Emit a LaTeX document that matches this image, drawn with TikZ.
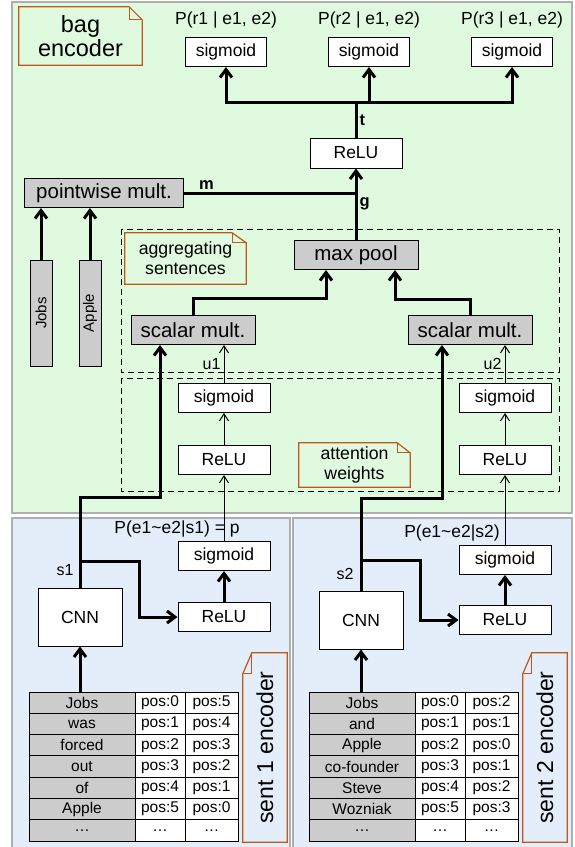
\documentclass[tikz,border=0pt]{standalone}
\usepackage{fontspec}
\setmainfont{Liberation Sans}
\usetikzlibrary{arrows.meta}
\definecolor{bagfill}{RGB}{223,250,223}
\definecolor{sentfill}{RGB}{228,238,250}
\definecolor{notedge}{RGB}{192,88,28}
\definecolor{panelgray}{RGB}{175,175,175}
\definecolor{boxgray}{RGB}{204,204,204}
\newcommand{\notefoldR}[3]{%
  \draw[noteline] (#1.south west) -- (#1.north west) -- ([xshift=-#2]#1.north east)
    -- ([yshift=-#3]#1.north east) -- (#1.south east) -- cycle;
  \draw[noteline] ([xshift=-#2]#1.north east) |- ([yshift=-#3]#1.north east);}
\newcommand{\notefoldL}[3]{%
  \draw[noteline] (#1.north west) -- ([yshift=-#3]#1.north east) -- ([xshift=#2]#1.north east)
    -- (#1.south east) -- (#1.south west) -- cycle;
  \draw[noteline] ([xshift=#2]#1.north east) |- ([yshift=-#3]#1.north east);}
\begin{document}
\begin{tikzpicture}[%
    x=1pt, y=-1pt,
    panel/.style={draw=panelgray, line width=1.5pt},
    wbox/.style={
      rectangle,
      draw,
      line width=1pt,
      fill=white,
      inner sep=0pt,
      minimum height=29pt,
      font=\fontsize{17.5}{19}\selectfont
    },
    gbox/.style={
      wbox,
      fill=boxgray,
      minimum width=124pt,
      font=\fontsize{20.5}{22}\selectfont
    },
    entbar/.style={
      rectangle,
      draw,
      line width=1pt,
      fill=boxgray,
      rotate=90,
      inner sep=0pt,
      minimum width=106pt,
      minimum height=22pt,
      font=\fontsize{15}{16}\selectfont
    },
    lbl/.style={inner sep=0pt, font=\fontsize{17.5}{19}\selectfont},
    slbl/.style={inner sep=0pt, font=\fontsize{16}{18}\selectfont},
    blbl/.style={inner sep=2pt, font=\fontsize{16.5}{18}\selectfont\bfseries},
    note/.style={align=center, inner sep=0pt},
    noteline/.style={draw=notedge, line width=1.2pt},
    dashbox/.style={line width=1pt, dash pattern=on 6pt off 4pt},
    thickline/.style={line width=3pt},
    thickarrow/.style={thickline, -{Straight Barb[length=8pt,width=12pt]}},
    thinarrow/.style={line width=1pt, -{Straight Barb[length=7pt,width=9pt]}},
    cell/.style={
      draw,
      line width=1pt,
      inner sep=0pt,
      minimum height=21.3pt,
      font=\fontsize{15.5}{16}\selectfont
    },
    wordcell/.style={cell, fill=boxgray, minimum width=106pt},
    poscell/.style={cell, fill=white},
  ]
    \useasboundingbox (0,0) rectangle (575,847);
    \clip (0,0) rectangle (575,847);
    \draw[panel, fill=bagfill] (12,2) rectangle (572,513);
    \draw[panel, fill=sentfill] (12,518) rectangle (290,860);
    \draw[panel, fill=sentfill] (293,518) rectangle (572,860);
    \draw[dashbox] (121,229) rectangle (559,372);
    \draw[dashbox] (121,378) rectangle (559,491);
    % bag encoder
    \node[note, minimum width=123pt, minimum height=58pt,
      font=\fontsize{23.5}{24}\selectfont] (bagnote) at (80.5,36) {bag\\encoder};
    \notefoldR{bagnote}{13pt}{13pt}
    \node[note, minimum width=121pt, minimum height=51pt,
      font=\fontsize{17.7}{20}\selectfont] (aggnote) at (185.5,258.5) {aggregating\\sentences};
    \notefoldR{aggnote}{14pt}{10pt}
    \node[note, minimum width=111pt, minimum height=44pt,
      font=\fontsize{17.7}{20}\selectfont] (attnote) at (354.5,465) {attention\\weights};
    \notefoldR{attnote}{13pt}{10pt}
    \node[lbl] (pr1) at (226,20) {P(r1 | e1, e2)};
    \node[lbl] (pr2) at (369,20) {P(r2 | e1, e2)};
    \node[lbl] (pr3) at (512,20) {P(r3 | e1, e2)};
    \node[wbox, minimum width=81pt] (sig1) at (226,52) {sigmoid};
    \node[wbox, minimum width=81pt] (sig2) at (369,52) {sigmoid};
    \node[wbox, minimum width=81pt] (sig3) at (512,52) {sigmoid};
    \node[wbox, minimum width=92pt, minimum height=30pt] (relut) at (356,153) {ReLU};
    \node[gbox, minimum width=159pt] (pw) at (104,193) {pointwise mult.};
    \node[entbar] (jobs) at (41,313) {Jobs};
    \node[entbar] (apple) at (90,313) {Apple};
    \node[gbox] (mp) at (356,255) {max pool};
    \node[gbox] (sm1) at (193,330) {scalar mult.};
    \node[gbox] (sm2) at (470,330) {scalar mult.};
    \node[wbox, minimum width=92pt] (siga1) at (224,398) {sigmoid};
    \node[wbox, minimum width=92pt] (relua1) at (224,460) {ReLU};
    \node[wbox, minimum width=92pt] (siga2) at (505,398) {sigmoid};
    \node[wbox, minimum width=92pt] (relua2) at (505,460) {ReLU};
    % sentence encoders
    \node[lbl] (ps1) at (177,529) {P(e1\textasciitilde e2|s1) = p};
    \node[lbl] (ps2) at (452,533) {P(e1\textasciitilde e2|s2)};
    \node[wbox, minimum width=92pt] (sigs1) at (224,556) {sigmoid};
    \node[wbox, minimum width=92pt] (relus1) at (224,617) {ReLU};
    \node[wbox, minimum width=92pt] (sigs2) at (505,560) {sigmoid};
    \node[wbox, minimum width=92pt] (relus2) at (505,620) {ReLU};
    \node[wbox, minimum width=84pt, minimum height=58pt] (cnn1) at (80,617) {CNN};
    \node[wbox, minimum width=84pt, minimum height=58pt] (cnn2) at (361,620) {CNN};
    \node[slbl] (s1) at (65,570) {s1};
    \node[slbl] (s2) at (345,574) {s2};
    \foreach \w/\a/\b [count=\i] in {Jobs/pos:0/pos:5, was/pos:1/pos:4, forced/pos:2/pos:3,
        out/pos:3/pos:2, of/pos:4/pos:1, Apple/pos:5/pos:0, \dots/\dots/\dots} {
      \node[wordcell] (wl\i) at (82,681.35+21.3*\i) {\w};
      \node[poscell, minimum width=50pt] (al\i) at (160,681.35+21.3*\i) {\a};
      \node[poscell, minimum width=53pt] (bl\i) at (211.5,681.35+21.3*\i) {\b};
    }
    \foreach \w/\a/\b [count=\i] in {Jobs/pos:0/pos:2, and/pos:1/pos:1, Apple/pos:2/pos:0,
        co-founder/pos:3/pos:1, Steve/pos:4/pos:2, Wozniak/pos:5/pos:3, \dots/\dots/\dots} {
      \node[wordcell] (wr\i) at (362,681.35+21.3*\i) {\w};
      \node[poscell, minimum width=50pt] (ar\i) at (440,681.35+21.3*\i) {\a};
      \node[poscell, minimum width=53pt] (br\i) at (491.5,681.35+21.3*\i) {\b};
    }
    \node[note, rotate=90, minimum width=189pt, minimum height=44pt,
      font=\fontsize{23}{24}\selectfont] (sent1) at (265,747.5) {sent 1 encoder};
    \notefoldL{sent1}{9pt}{21pt}
    \node[note, rotate=90, minimum width=189pt, minimum height=44pt,
      font=\fontsize{23}{24}\selectfont] (sent2) at (545,747.5) {sent 2 encoder};
    \notefoldL{sent2}{9pt}{21pt}
    % connectors
    \draw[thickline] (relut.north) -- ++(0,-35) node[midway, right, blbl] {t} coordinate (bus);
    \draw[thickarrow] (bus) -| (sig1.south);
    \draw[thickarrow] (bus) -| (sig2.south);
    \draw[thickarrow] (bus) -| (sig3.south);
    \draw[thickarrow] (mp.north) -- (relut.south) node[midway, right, blbl] {g};
    \draw[thickline] (pw.east) -- (pw.east -| mp.north) node[pos=0.13, above, blbl] {m};
    \draw[thickarrow] (jobs.east) -- (jobs.east |- pw.south);
    \draw[thickarrow] (apple.east) -- (apple.east |- pw.south);
    \draw[thickarrow] (sm1.north) -- ++(0,-17) -| ([xshift=-30pt]mp.south);
    \draw[thickarrow] (sm2.north) -- ++(0,-16) -| ([xshift=39pt]mp.south);
    \draw[thinarrow] (siga1.north) -- (siga1.north |- sm1.south) node[midway, left, slbl, xshift=-3pt] {u1};
    \draw[thinarrow] (siga2.north) -- (siga2.north |- sm2.south) node[midway, left, slbl, xshift=-3pt] {u2};
    \draw[thinarrow] (relua1) -- (siga1);
    \draw[thinarrow] (relua2) -- (siga2);
    \draw[thinarrow] (sigs1.north) -- (relua1.south);
    \draw[thinarrow] (sigs2.north) -- (relua2.south);
    \draw[thickarrow] (cnn1.north) -- ++(0,-90) -| ([xshift=-33pt]sm1.south);
    \draw[thickarrow] (cnn2.north) -- ++(0,-92) -| ([xshift=-28pt]sm2.south);
    \draw[thickarrow] (cnn1.north) ++(0,-26) -- ++(59,0) |- (relus1.west);
    \draw[thickarrow] (cnn2.north) ++(0,-30) -- ++(59,0) |- (relus2.west);
    \draw[thickarrow] (relus1) -- (sigs1);
    \draw[thickarrow] (relus2) -- (sigs2);
    \draw[thickarrow] (wl1.north -| cnn1.south) -- (cnn1.south);
    \draw[thickarrow] (wr1.north -| cnn2.south) -- (cnn2.south);
  \end{tikzpicture}
\end{document}
